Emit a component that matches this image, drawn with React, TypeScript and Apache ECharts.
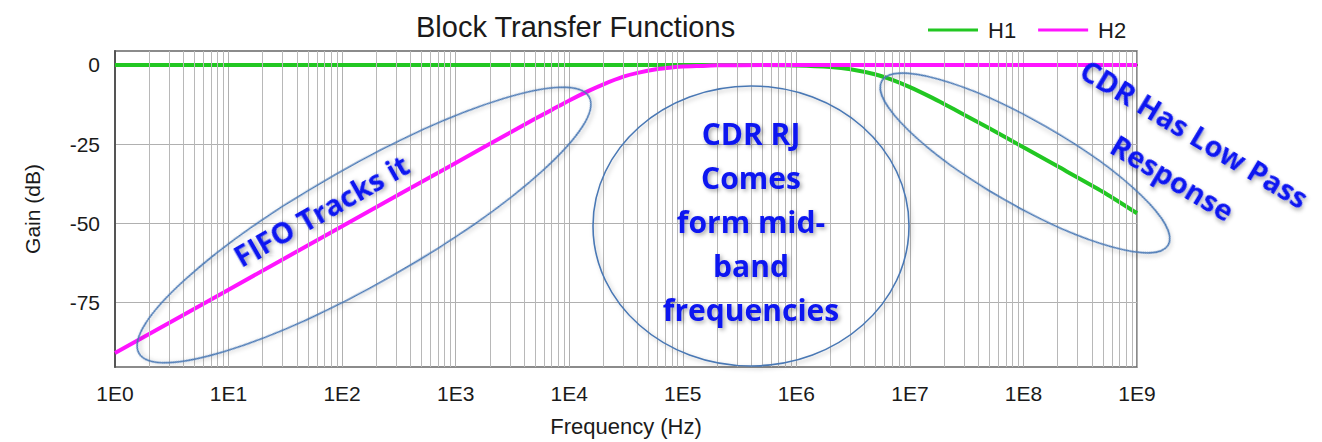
import React, { useEffect, useRef } from 'react';
import * as echarts from 'echarts';

// Frequencies (Hz) and gains (dB)
const freqH1 = [1, 1e5, 5e5, 1e6, 2e6, 3e6, 5e6, 7e6, 1e7, 1.5e7, 2e7, 3e7, 5e7, 1e8, 2e8, 5e8, 1e9];
const gainH1 = [0, 0, -0.05, -0.17, -0.64, -1.34, -3.0, -4.7, -7.0, -10.0, -12.3, -15.7, -20.0, -26.0, -32.0, -40.0, -46.8];
const freqH2 = [1, 10, 100, 1e3, 3e3, 5e3, 7e3, 1e4, 1.5e4, 2e4, 3e4, 4e4, 6e4, 8e4, 1e5, 1.5e5, 2e5, 5e5, 1e6, 1e9];
const gainH2 = [-90.9, -70.9, -50.9, -30.9, -21.4, -17.0, -14.2, -11.2, -8.1, -6.1, -3.7, -2.5, -1.3, -0.8, -0.5, -0.3, -0.13, -0.02, 0, 0];
const yTickValues = [0, -25, -50, -75];
const seriesNames = ['H1', 'H2'];
const title = 'Block Transfer Functions';
const xName = 'Frequency (Hz)';
const yName = 'Gain (dB)';

const FONT = '"Liberation Sans", Arial, sans-serif';
const ANN_FONT = '"Open Sans", "Noto Sans", sans-serif';
const ANN_COLOR = '#0a14f0';
const ELL_COLOR = '#4a78b4';

// minor log grid positions (2..9 per decade)
const minorGrid: number[] = [];
for (let k = 0; k < 9; k++) {
  for (let m = 2; m <= 9; m++) minorGrid.push(m * Math.pow(10, k));
}

export default function App() {
  const ref = useRef<HTMLDivElement>(null);
  useEffect(() => {
    document.body.style.margin = '0';
    const chart = echarts.init(ref.current!, null, { renderer: 'svg' });
    const textShadow = {
      textShadowColor: 'rgba(0,0,0,0.35)',
      textShadowBlur: 4,
      textShadowOffsetX: 2,
      textShadowOffsetY: 2,
    };
    const ellStyle = {
      fill: 'none',
      stroke: ELL_COLOR,
      lineWidth: 1.6,
      shadowColor: 'rgba(0,0,0,0.25)',
      shadowBlur: 4,
      shadowOffsetX: 2,
      shadowOffsetY: 2,
    };
    const option: any = {
      animation: false,
      backgroundColor: '#ffffff',
      title: {
        text: title,
        left: 411,
        top: 7,
        textStyle: { fontFamily: FONT, fontSize: 29, fontWeight: 'normal', color: '#1a1a1a' },
      },
      legend: {
        data: seriesNames,
        left: 923,
        top: 14,
        icon: 'rect',
        itemWidth: 50,
        itemHeight: 3,
        itemGap: 22,
        textStyle: { fontFamily: FONT, fontSize: 22, color: '#1a1a1a', padding: [0, 0, 0, 5] },
      },
      grid: {
        left: 115,
        right: 185,
        top: 51,
        bottom: 72,
        show: true,
        borderColor: '#666',
        borderWidth: 1.5,
      },
      xAxis: {
        type: 'log',
        logBase: 10,
        min: 1,
        max: 1e9,
        splitNumber: 9,
        name: xName,
        nameLocation: 'middle',
        nameGap: 48,
        nameTextStyle: { fontFamily: FONT, fontSize: 22, color: '#1a1a1a' },
        axisLine: { show: true, lineStyle: { color: '#555', width: 2 } },
        axisTick: { show: false },
        axisLabel: {
          margin: 16,
          fontFamily: FONT,
          fontSize: 21,
          color: '#1a1a1a',
          formatter: (v: number) => '1E' + Math.round(Math.log10(v)),
        },
        splitLine: { show: true, lineStyle: { color: '#b0b0b0', width: 1 } },
      },
      yAxis: {
        type: 'value',
        min: -95.3,
        max: 4.4,
        name: yName,
        nameLocation: 'middle',
        nameGap: 72,
        nameTextStyle: { fontFamily: FONT, fontSize: 21, color: '#1a1a1a' },
        axisLine: { show: true, lineStyle: { color: '#555', width: 2 } },
        axisTick: { show: false, customValues: yTickValues },
        axisLabel: {
          customValues: yTickValues,
          margin: 15,
          fontFamily: FONT,
          fontSize: 21,
          color: '#1a1a1a',
          formatter: (v: number) => String(v),
        },
        splitLine: { show: true, lineStyle: { color: '#b0b0b0', width: 1 } },
      },
      series: [
        {
          name: 'grid',
          type: 'line',
          data: [[1, 0]],
          showSymbol: false,
          lineStyle: { opacity: 0 },
          silent: true,
          z: 1,
          markLine: {
            silent: true,
            symbol: ['none', 'none'],
            label: { show: false },
            lineStyle: { color: '#b8b8b8', width: 1, type: 'solid' },
            data: minorGrid.map((v) => ({ xAxis: v })),
          },
        },
        {
          name: 'H1',
          type: 'line',
          data: freqH1.map((f, i) => [f, gainH1[i]]),
          showSymbol: false,
          smooth: 0.2,
          lineStyle: { color: '#22c722', width: 4 },
          itemStyle: { color: '#22c722' },
          z: 3,
        },
        {
          name: 'H2',
          type: 'line',
          data: freqH2.map((f, i) => [f, gainH2[i]]),
          showSymbol: false,
          smooth: 0.2,
          lineStyle: { color: '#ff14ff', width: 4 },
          itemStyle: { color: '#ff14ff' },
          z: 4,
        },
      ],
      graphic: [
        {
          type: 'ellipse',
          x: 364,
          y: 225,
          rotation: 0.518,
          shape: { cx: 0, cy: 0, rx: 259, ry: 58 },
          style: ellStyle,
          z: 10,
        },
        {
          type: 'ellipse',
          x: 751,
          y: 226,
          shape: { cx: 0, cy: 0, rx: 158, ry: 140 },
          style: ellStyle,
          z: 10,
        },
        {
          type: 'ellipse',
          x: 1025,
          y: 163,
          rotation: -0.52,
          shape: { cx: 0, cy: 0, rx: 165, ry: 42 },
          style: ellStyle,
          z: 10,
        },
        {
          type: 'text',
          x: 321,
          y: 210,
          rotation: 0.52,
          style: {
            text: 'FIFO Tracks it',
            x: 0,
            y: 0,
            align: 'center',
            verticalAlign: 'middle',
            fill: ANN_COLOR,
            font: `bold 29px ${ANN_FONT}`,
            ...textShadow,
          },
          z: 11,
        },
        {
          type: 'text',
          x: 751,
          y: 221,
          style: {
            text: 'CDR RJ\nComes\nform mid-\nband\nfrequencies',
            x: 0,
            y: 0,
            align: 'center',
            verticalAlign: 'middle',
            lineHeight: 44,
            fill: ANN_COLOR,
            font: `bold 30px ${ANN_FONT}`,
            ...textShadow,
          },
          z: 11,
        },
        {
          type: 'text',
          x: 1195,
          y: 133,
          rotation: -0.54,
          style: {
            text: 'CDR Has Low Pass',
            x: 0,
            y: 0,
            align: 'center',
            verticalAlign: 'middle',
            fill: ANN_COLOR,
            font: `bold 29px ${ANN_FONT}`,
            ...textShadow,
          },
          z: 11,
        },
        {
          type: 'text',
          x: 1173,
          y: 177,
          rotation: -0.54,
          style: {
            text: 'Response',
            x: 0,
            y: 0,
            align: 'center',
            verticalAlign: 'middle',
            fill: ANN_COLOR,
            font: `bold 29px ${ANN_FONT}`,
            ...textShadow,
          },
          z: 11,
        },
      ],
    };
    chart.setOption(option);
    return () => chart.dispose();
  }, []);
  return (
    <div
      ref={ref}
      style={{ position: 'absolute', left: 0, top: 0, width: 1322, height: 442 }}
    />
  );
}
